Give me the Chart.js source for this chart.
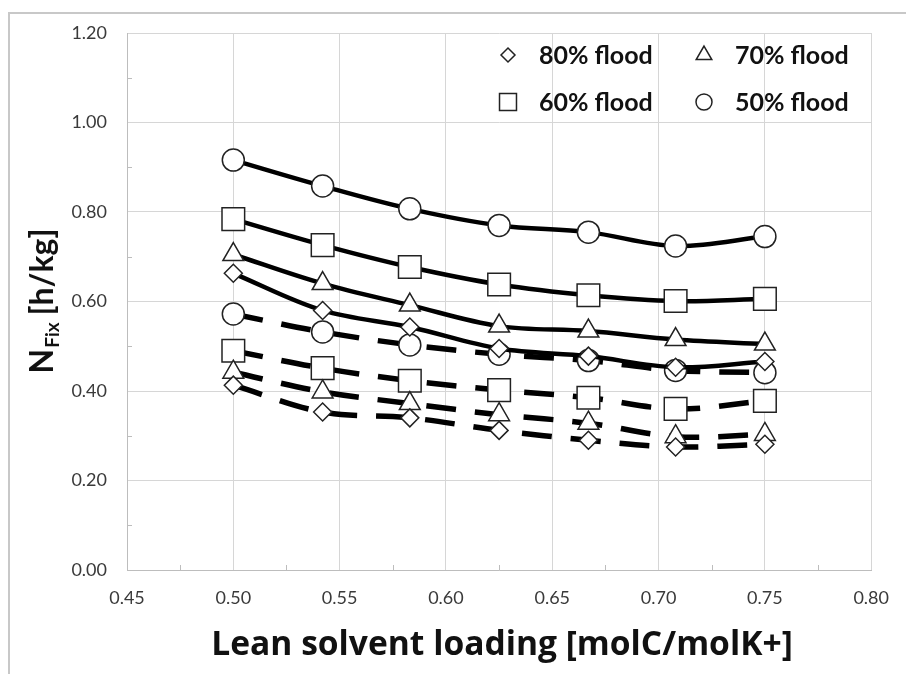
<!DOCTYPE html>
<html>
<head>
<meta charset="utf-8">
<script src="https://cdn.jsdelivr.net/npm/chart.js@4.4.0/dist/chart.umd.min.js"></script>
<style>
  html, body { margin: 0; padding: 0; background: #fff; }
  #wrap { width: 906px; height: 674px; position: relative; }
</style>
</head>
<body>
<div id="wrap"><canvas id="chart"></canvas></div>
<script>
// lean solvent loading (x) and N_Fix values
var loading = [0.500, 0.542, 0.583, 0.625, 0.667, 0.708, 0.750];

// solid curves
var flood80 = [0.663, 0.580, 0.543, 0.495, 0.478, 0.453, 0.466];
var flood70 = [0.705, 0.640, 0.592, 0.545, 0.534, 0.515, 0.505];
var flood60 = [0.784, 0.726, 0.677, 0.638, 0.614, 0.601, 0.606];
var flood50 = [0.916, 0.858, 0.807, 0.770, 0.755, 0.724, 0.745];

// dashed curves
var flood80b = [0.413, 0.353, 0.340, 0.312, 0.290, 0.275, 0.281];
var flood70b = [0.442, 0.398, 0.372, 0.347, 0.328, 0.298, 0.303];
var flood60b = [0.490, 0.451, 0.423, 0.402, 0.385, 0.360, 0.378];
var flood50b = [0.572, 0.532, 0.503, 0.482, 0.468, 0.446, 0.441];

var legendLabels = ['80% flood', '70% flood', '60% flood', '50% flood'];
var xTicks = [0.45, 0.50, 0.55, 0.60, 0.65, 0.70, 0.75, 0.80];
var yTicks = [0.00, 0.20, 0.40, 0.60, 0.80, 1.00, 1.20];

var FONT = "Lato, 'Open Sans', sans-serif";
var WIDE = "'Open Sans', Lato, sans-serif";

function pts(ys) {
    var out = [];
    for (var i = 0; i < loading.length; i++) out.push({x: loading[i], y: ys[i]});
    return out;
}

function series(label, ys, style, radius, dashed) {
    return {
        label: label,
        data: pts(ys),
        showLine: true,
        borderColor: '#000',
        borderWidth: dashed ? 5.5 : 4.5,
        borderDash: dashed ? [30, 19] : [],
        tension: 0.35,
        pointStyle: style,
        pointRadius: radius,
        pointHoverRadius: radius,
        pointBackgroundColor: '#fff',
        pointBorderColor: '#222',
        pointBorderWidth: 1.5
    };
}

var markers = [
    {style: 'rectRot', r: 9, lr: 7},
    {style: 'triangle', r: 12, lr: 9},
    {style: 'rect', r: 16, lr: 12},
    {style: 'circle', r: 11, lr: 8}
];

var datasets = [];
var solid = [flood80, flood70, flood60, flood50];
var dashed = [flood80b, flood70b, flood60b, flood50b];
for (var s = 0; s < 4; s++) datasets.push(series(legendLabels[s], solid[s], markers[s].style, markers[s].r, false));
for (var d = 0; d < 4; d++) datasets.push(series(legendLabels[d] + ' (dashed)', dashed[d], markers[d].style, markers[d].r, true));

var extras = {
    id: 'extras',
    beforeDraw: function(chart) {
        var ctx = chart.ctx;
        ctx.save();
        ctx.strokeStyle = '#c8c8c8';
        ctx.lineWidth = 2;
        ctx.beginPath();
        ctx.moveTo(9, 674);
        ctx.lineTo(9, 13);
        ctx.lineTo(906, 13);
        ctx.stroke();
        ctx.restore();
    },
    afterDraw: function(chart) {
        var ctx = chart.ctx;
        var xs = chart.scales.x, ys = chart.scales.y;
        var a = chart.chartArea;
        ctx.save();

        // minor ticks
        ctx.strokeStyle = '#bdbdbd';
        ctx.lineWidth = 1;
        ctx.beginPath();
        for (var i = 0; i < xTicks.length - 1; i++) {
            var px = Math.round(xs.getPixelForValue((xTicks[i] + xTicks[i + 1]) / 2)) + 0.5;
            ctx.moveTo(px, a.bottom);
            ctx.lineTo(px, a.bottom - 5);
        }
        for (var j = 0; j < yTicks.length - 1; j++) {
            var py = Math.round(ys.getPixelForValue((yTicks[j] + yTicks[j + 1]) / 2)) + 0.5;
            ctx.moveTo(a.left, py);
            ctx.lineTo(a.left + 5, py);
        }
        ctx.stroke();

        // x title
        ctx.fillStyle = '#111';
        ctx.font = 'bold 33.6px ' + WIDE;
        ctx.textAlign = 'center';
        ctx.textBaseline = 'alphabetic';
        ctx.fillText('Lean solvent loading [molC/molK+]', 502, 655);

        // y title with subscript
        ctx.save();
        ctx.translate(53, 301);
        ctx.rotate(-Math.PI / 2);
        var big = 'bold 32px ' + FONT, small = 'bold 19px ' + FONT;
        ctx.font = big; var w1 = ctx.measureText('N').width;
        ctx.font = small; var w2 = ctx.measureText('Fix').width;
        ctx.font = big; var w3 = ctx.measureText(' [h/kg]').width;
        var sx = -(w1 + w2 + w3) / 2;
        ctx.textAlign = 'left';
        ctx.font = big; ctx.fillText('N', sx, 0);
        ctx.font = small; ctx.fillText('Fix', sx + w1 + 1, 6);
        ctx.font = big; ctx.fillText(' [h/kg]', sx + w1 + w2, 0);
        ctx.restore();

        // legend inside the plot, two columns
        var cols = [508, 704], rows = [55, 102], textOff = 31;
        ctx.textAlign = 'left';
        ctx.textBaseline = 'middle';
        ctx.font = 'bold 25px ' + FONT;
        for (var k = 0; k < 4; k++) {
            var cx = cols[k % 2], cy = rows[Math.floor(k / 2)];
            ctx.fillStyle = '#fff';
            ctx.strokeStyle = '#222';
            ctx.lineWidth = 1.5;
            Chart.helpers.drawPoint(ctx, {pointStyle: markers[k].style, radius: markers[k].lr, borderWidth: 1.5, rotation: 0}, cx, cy);
            ctx.fillStyle = '#111';
            ctx.fillText(legendLabels[k], cx + textOff, cy + 1);
        }
        ctx.restore();
    }
};

new Chart(document.getElementById('chart'), {
    type: 'scatter',
    data: { datasets: datasets },
    options: {
        responsive: true,
        maintainAspectRatio: false,
        animation: false,
        layout: { padding: { top: 33, right: 28, left: 0, bottom: 0 } },
        plugins: {
            legend: { display: false },
            tooltip: { enabled: false }
        },
        scales: {
            x: {
                type: 'linear',
                min: 0.45,
                max: 0.80,
                afterBuildTicks: function(scale) { scale.ticks = xTicks.map(function(v) { return {value: v}; }); },
                afterFit: function(scale) { scale.height = 104; },
                ticks: {
                    padding: 17,
                    color: '#3a3a3a',
                    font: { family: FONT, size: 18 },
                    callback: function(v) { return Number(v).toFixed(2); }
                },
                grid: { color: '#d6d6d6', lineWidth: 1, drawTicks: false },
                border: { color: '#bdbdbd', width: 1 }
            },
            y: {
                type: 'linear',
                min: 0,
                max: 1.2,
                afterBuildTicks: function(scale) { scale.ticks = yTicks.map(function(v) { return {value: v}; }); },
                afterFit: function(scale) { scale.width = 127; },
                ticks: {
                    padding: 20,
                    color: '#3a3a3a',
                    font: { family: FONT, size: 18 },
                    callback: function(v) { return Number(v).toFixed(2); }
                },
                grid: { color: '#d6d6d6', lineWidth: 1, drawTicks: false },
                border: { color: '#bdbdbd', width: 1 }
            }
        }
    },
    plugins: [extras]
});
</script>
</body>
</html>
